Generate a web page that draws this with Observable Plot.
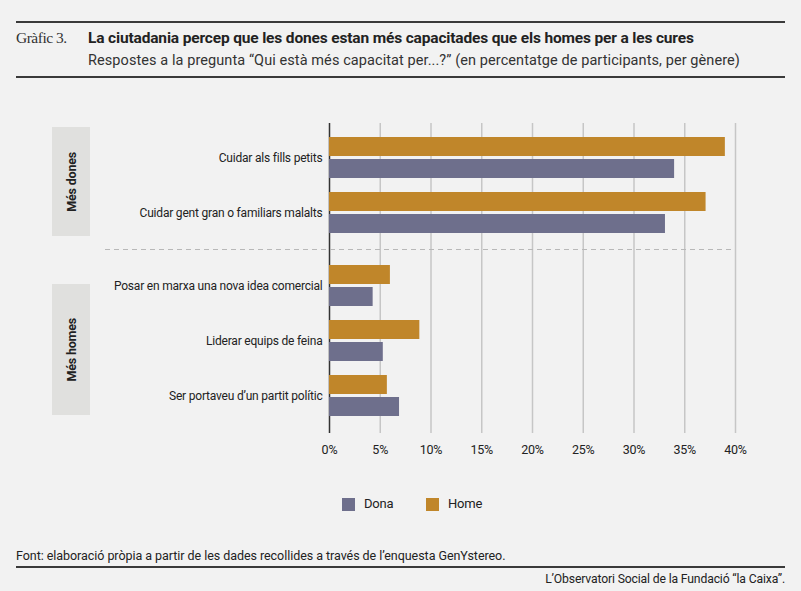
<!DOCTYPE html>
<html>
<head>
<meta charset="utf-8">
<script src="https://cdn.jsdelivr.net/npm/d3@7"></script>
<script src="https://cdn.jsdelivr.net/npm/@observablehq/plot@0.6"></script>
<style>
  html, body { margin: 0; padding: 0; background: #f2f2f2; }
  #wrap { position: relative; width: 801px; height: 591px; background: #f2f2f2; font-family: Roboto, sans-serif; color: #222; overflow: hidden; }
  .abs { position: absolute; white-space: nowrap; }
  .hline { position: absolute; left: 16px; width: 769px; height: 2px; background: #3a3a3a; }
  .gbox { position: absolute; left: 52px; width: 38px; background: #e0e0de; display: flex; align-items: center; justify-content: center; }
  .gbox span { writing-mode: vertical-rl; transform: rotate(180deg); font-weight: bold; font-size: 12.5px; letter-spacing: -0.2px; color: #222; }
  .plot { position: absolute; left: 0; }
  .sw { position: absolute; width: 13px; height: 13px; }
  .lg { position: absolute; font-size: 13px; line-height: 16px; letter-spacing: -0.2px; }
</style>
</head>
<body>
<div id="wrap">
  <div class="hline" style="top:21px"></div>
  <div class="abs" style="left:16px; top:29px; line-height:18px; font-family:'Liberation Serif',serif; font-size:15.5px; letter-spacing:-0.5px; color:#333;">Gràfic 3.</div>
  <div class="abs" id="title" style="left:88px; top:29px; line-height:18px; font-size:15.5px; font-weight:bold; letter-spacing:-0.16px; color:#222;"></div>
  <div class="abs" id="subtitle" style="left:88px; top:52px; line-height:18px; font-size:14.5px; letter-spacing:0.08px; color:#333;"></div>
  <div class="hline" style="top:76px"></div>

  <div class="gbox" style="top:127px; height:109px;"><span id="g1"></span></div>
  <div class="gbox" style="top:284px; height:131px;"><span id="g2"></span></div>

  <div id="bg" class="plot" style="top:123px"></div>
  <div id="p1" class="plot" style="top:123px"></div>
  <div id="p2" class="plot" style="top:249px"></div>
  <div class="abs" style="left:105px; top:249px; width:630px; height:1px; background: repeating-linear-gradient(to right, #b8b8b8 0 5px, transparent 5px 9px);"></div>

  <div id="legend"></div>

  <div class="abs" id="source" style="left:16px; top:548px; line-height:16px; font-size:12.5px; letter-spacing:-0.05px; color:#222;"></div>
  <div class="hline" style="top:566px"></div>
  <div class="abs" id="credit" style="right:16px; top:571px; line-height:16px; font-size:12.2px; letter-spacing:-0.15px; color:#222; text-align:right;"></div>
</div>
<script>
// ---- data ----
const titleText = "La ciutadania percep que les dones estan més capacitades que els homes per a les cures";
const subtitleText = "Respostes a la pregunta “Qui està més capacitat per...?” (en percentatge de participants, per gènere)";
const groupLabels = ["Més dones", "Més homes"];
const categoriesDones = ["Cuidar als fills petits", "Cuidar gent gran o familiars malalts"];
const categoriesHomes = ["Posar en marxa una nova idea comercial", "Liderar equips de feina", "Ser portaveu d’un partit polític"];
const donaValues = [34.0, 33.1, 4.3, 5.3, 6.9];
const homeValues = [39.0, 37.1, 6.0, 8.9, 5.7];
const series = ["Dona", "Home"];
const seriesColors = ["#6e6f8c", "#c0862a"];
const xTicks = [0, 5, 10, 15, 20, 25, 30, 35, 40];
const sourceText = "Font: elaboració pròpia a partir de les dades recollides a través de l’enquesta GenYstereo.";
const creditText = "L’Observatori Social de la Fundació “la Caixa”.";

// ---- build rows ----
const allCats = categoriesDones.concat(categoriesHomes);
const rows = [];
allCats.forEach((c, i) => {
  rows.push({cat: c, gender: "Home", value: homeValues[i]});
  rows.push({cat: c, gender: "Dona", value: donaValues[i]});
});
const rows1 = rows.filter(r => categoriesDones.includes(r.cat));
const rows2 = rows.filter(r => categoriesHomes.includes(r.cat));

document.getElementById("title").textContent = titleText;
document.getElementById("subtitle").textContent = subtitleText;
document.getElementById("g1").textContent = groupLabels[0];
document.getElementById("g2").textContent = groupLabels[1];
document.getElementById("source").textContent = sourceText;
document.getElementById("credit").textContent = creditText;

const W = 801, ML = 329, MR = 66;
const baseStyle = {fontFamily: "Roboto, sans-serif", fontSize: "12px", background: "transparent", color: "#222", overflow: "visible", letterSpacing: "-0.2px"};
const axisStyle = Object.assign({}, baseStyle, {fontSize: "12.5px"});

// background: grid + zero line + x axis
const bg = Plot.plot({
  width: W, height: 340, marginLeft: ML, marginRight: MR, marginTop: 0, marginBottom: 30,
  style: axisStyle,
  x: {domain: [0, 40], ticks: xTicks, tickFormat: d => d + "%", tickSize: 0, tickPadding: 12, label: null},
  marks: [
    Plot.ruleX(xTicks.filter(d => d > 0), {stroke: "#c6c6c6", strokeWidth: 1.5}),
    Plot.ruleX([0], {stroke: "#333", strokeWidth: 1.5})
  ]
});
document.getElementById("bg").appendChild(bg);

function barPlot(data, cats, height, po) {
  return Plot.plot({
    width: W, height, marginLeft: ML, marginRight: MR, marginTop: 0, marginBottom: 0,
    style: baseStyle,
    facet: {data, y: "cat", label: null},
    x: {domain: [0, 40], axis: null},
    y: {domain: ["Home", "Dona"], axis: null, paddingInner: 0.115, paddingOuter: 0},
    fy: {domain: cats, axis: "left", label: null, tickSize: 0, tickPadding: 7, paddingInner: 0.234, paddingOuter: po},
    color: {domain: series, range: seriesColors},
    marks: [
      Plot.barX(data, {x: "value", y: "gender", fill: "gender"})
    ]
  });
}
document.getElementById("p1").appendChild(barPlot(rows1, categoriesDones, 126, 0.25));
document.getElementById("p2").appendChild(barPlot(rows2, categoriesHomes, 184, 0.27));

// legend
const lg = document.getElementById("legend");
const lgX = [342, 426];
series.forEach((s, i) => {
  const sw = document.createElement("div");
  sw.className = "sw";
  sw.style.left = lgX[i] + "px";
  sw.style.top = "498px";
  sw.style.background = seriesColors[i];
  lg.appendChild(sw);
  const t = document.createElement("div");
  t.className = "lg";
  t.style.left = (lgX[i] + 22) + "px";
  t.style.top = "496px";
  t.textContent = s;
  lg.appendChild(t);
});
</script>
</body>
</html>
